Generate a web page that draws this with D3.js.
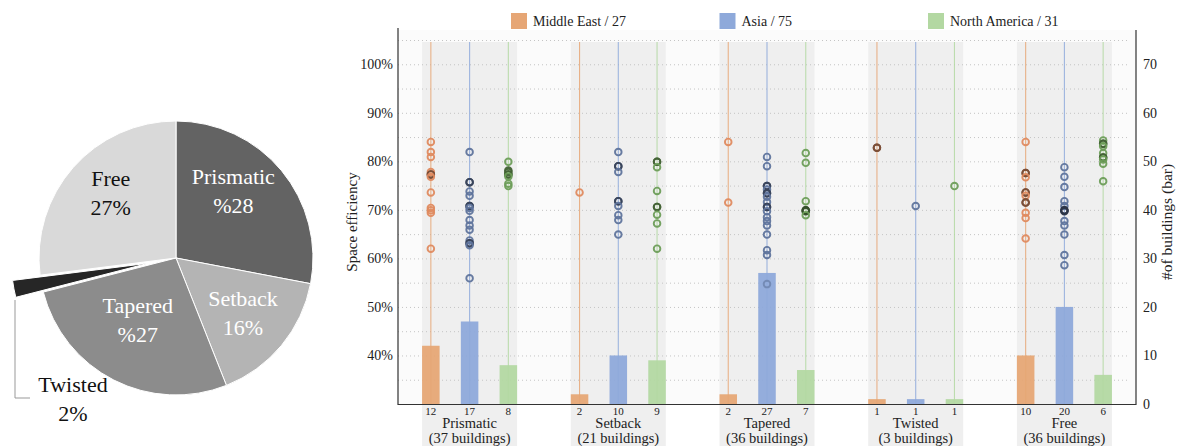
<!DOCTYPE html>
<html>
<head>
<meta charset="utf-8">
<script src="https://cdn.jsdelivr.net/npm/d3@7"></script>
<style>
  body { margin: 0; background: #fff; }
  svg { font-family: "Liberation Serif", "DejaVu Serif", serif; }
</style>
</head>
<body>
<svg id="chart" width="1185" height="446"></svg>
<script>
// ---- pie data ----
const pieNames = ["Prismatic", "Setback", "Tapered", "Twisted", "Free"];
const pieShares = [28, 16, 27, 2, 27];
const pieTexts = ["%28", "16%", "%27", "2%", "27%"];

// ---- grouped chart data ----
const categories = ["Prismatic", "Setback", "Tapered", "Twisted", "Free"];
const buildingTotals = [37, 21, 36, 3, 36];
const regions = ["Middle East", "Asia", "North America"];
const regionTotals = [27, 75, 31];

// number of buildings (bars, right axis)
const countsME = [12, 2, 2, 1, 10];
const countsAsia = [17, 10, 27, 1, 20];
const countsNA = [8, 9, 7, 1, 6];

// space efficiency per building (dots, left axis, %)
const effME = [
  [84.0, 81.9, 80.9, 77.8, 77.3, 77.3, 76.8, 73.6, 70.4, 69.9, 69.4, 62.0],
  [73.6],
  [84.0, 71.5],
  [82.8, 82.8],
  [84.0, 77.6, 77.6, 76.7, 73.6, 73.6, 72.9, 71.5, 71.5, 69.4, 68.3, 64.1]
];
const effAsia = [
  [81.9, 75.7, 75.7, 73.8, 72.9, 70.8, 70.8, 70.4, 69.8, 67.9, 66.8, 65.9, 63.7, 63.1, 63.1, 62.7, 55.9],
  [81.9, 79.0, 79.0, 77.8, 71.8, 71.8, 70.8, 68.9, 67.9, 64.9],
  [80.9, 79.0, 74.9, 74.9, 74.2, 73.4, 73.4, 72.7, 71.6, 70.6, 70.6, 69.7, 68.5, 67.7, 66.8, 64.9, 61.7, 60.7, 54.7],
  [70.8],
  [78.8, 76.8, 74.7, 71.8, 70.8, 69.9, 69.9, 69.7, 67.7, 66.8, 64.9, 60.7, 58.6]
];
const effNA = [
  [79.9, 78.1, 77.8, 77.3, 77.3, 76.9, 75.4, 74.9],
  [79.9, 79.9, 78.8, 73.9, 70.6, 70.6, 69.0, 67.2, 62.0],
  [81.7, 79.7, 71.8, 69.9, 69.9, 69.7, 68.9],
  [74.9],
  [84.3, 83.6, 83.6, 83.1, 81.7, 80.8, 80.8, 80.4, 79.5, 75.9]
];

const barColors = ["#e6a675", "#8ea9da", "#b3d8a2"];
const dotColors = ["#df8a5f", "#5f749c", "#6d9d58"];
const dotDark = ["#5a3a2a", "#2c3547", "#35502a"];

let svg = d3.select("#chart");

// ================= PIE =================
function drawPie() {
  let cx = 176, cy = 258, r = 137;
  let g = svg.append("g").attr("transform", "translate(" + cx + "," + cy + ")");

  let pie = d3.pie().sort(null).value(d => d);
  let arcs = pie(pieShares);
  let arc = d3.arc().innerRadius(0).outerRadius(r);
  let shades = ["#636363", "#b4b4b4", "#8c8c8c", "#262626", "#d9d9d9"];

  // twisted slice is pulled out a bit
  let explode = i => {
    if (pieNames[i] !== "Twisted") return [0, 0];
    let a = (arcs[i].startAngle + arcs[i].endAngle) / 2;
    return [Math.sin(a) * 28, -Math.cos(a) * 28];
  };

  g.selectAll("path")
    .data(arcs)
    .join("path")
    .attr("d", arc)
    .attr("fill", (d, i) => shades[i])
    .attr("stroke", "#fff")
    .attr("stroke-width", 1)
    .attr("transform", (d, i) => "translate(" + explode(i) + ")");

  // label spots (angle nudge in radians, radius)
  let labelSpot = [[-0.17, 88], [0, 87], [0.08, 73], null, [0.06, 92]];
  arcs.forEach((d, i) => {
    let lx, ly, fill;
    if (labelSpot[i]) {
      let a = (d.startAngle + d.endAngle) / 2 + labelSpot[i][0];
      lx = Math.sin(a) * labelSpot[i][1];
      ly = -Math.cos(a) * labelSpot[i][1];
      fill = pieNames[i] === "Free" ? "#111" : "#fff";
    } else {
      lx = -103; ly = 141; fill = "#111";
      // leader line for the small slice
      g.append("path")
        .attr("d", "M-161,42 V140 H-146")
        .attr("fill", "none")
        .attr("stroke", "#999")
        .attr("stroke-width", 1);
    }
    let t = g.append("text")
      .attr("text-anchor", "middle")
      .attr("font-size", 22)
      .attr("fill", fill);
    t.append("tspan").attr("x", lx).attr("y", ly - 7).text(pieNames[i]);
    t.append("tspan").attr("x", lx).attr("y", ly + 22).text(pieTexts[i]);
  });
}

// ================= GROUPED CHART =================
function drawChart() {
  let left = 398, right = 1136, bottom = 404, top = 40;

  let x0 = d3.scaleBand().domain(categories).range([left, right])
    .paddingInner(0.361).paddingOuter(0.162);
  let x1 = d3.scaleBand().domain(regions).range([0, x0.bandwidth()])
    .paddingInner(0.548);
  let yEff = d3.scaleLinear().domain([30, 105]).range([bottom, top]);
  let yCount = d3.scaleLinear().domain([0, 75]).range([bottom, top]);

  let counts = [countsME, countsAsia, countsNA];
  let effs = [effME, effAsia, effNA];

  // plot background
  svg.append("rect")
    .attr("x", left).attr("y", 30)
    .attr("width", right - left).attr("height", bottom - 30)
    .attr("fill", "#fbfbfb");

  // category bands (run down behind the labels)
  svg.append("g").selectAll("rect")
    .data(categories)
    .join("rect")
    .attr("x", d => x0(d))
    .attr("y", yEff(105) + 2)
    .attr("width", x0.bandwidth())
    .attr("height", 446 - yEff(105))
    .attr("fill", "#efefef");

  // dotted grid every 5%
  svg.append("g").selectAll("line")
    .data(d3.range(35, 106, 5))
    .join("line")
    .attr("x1", left).attr("x2", right - 6)
    .attr("y1", d => yEff(d) + 0.5).attr("y2", d => yEff(d) + 0.5)
    .attr("stroke", "#c4c4c4")
    .attr("stroke-width", 1)
    .attr("stroke-dasharray", "1,3");

  categories.forEach((cat, ci) => {
    let g = svg.append("g").attr("transform", "translate(" + x0(cat) + ",0)");

    regions.forEach((reg, ri) => {
      let cx = x1(reg) + x1.bandwidth() / 2;

      // thin stem line
      g.append("line")
        .attr("x1", cx).attr("x2", cx)
        .attr("y1", yEff(105) + 2).attr("y2", bottom)
        .attr("stroke", barColors[ri])
        .attr("stroke-opacity", 0.85)
        .attr("stroke-width", 1.1);

      // count bar
      let n = counts[ri][ci];
      g.append("rect")
        .attr("x", x1(reg))
        .attr("y", yCount(n))
        .attr("width", x1.bandwidth())
        .attr("height", bottom - yCount(n))
        .attr("fill", barColors[ri])
        .attr("opacity", 0.95);

      // count label under bar
      g.append("text")
        .attr("x", cx).attr("y", bottom + 11)
        .attr("text-anchor", "middle")
        .attr("font-size", 11)
        .attr("fill", "#222")
        .text(n);

      // efficiency rings, darker where buildings overlap
      let vals = effs[ri][ci];
      g.selectAll(null)
        .data(vals)
        .join("circle")
        .attr("cx", cx)
        .attr("cy", d => yEff(d))
        .attr("r", 3.3)
        .attr("fill", "none")
        .attr("stroke-width", 1.9)
        .attr("stroke", d => {
          let dup = vals.filter(v => Math.abs(v - d) < 0.35).length - 1;
          return d3.interpolateRgb(dotColors[ri], dotDark[ri])(Math.min(dup * 0.75, 1));
        })
        .attr("stroke-opacity", d => (yCount(counts[ri][ci]) < yEff(d) ? 0.6 : 0.95));
    });

    // category label
    let t = svg.append("text")
      .attr("text-anchor", "middle")
      .attr("font-size", 14.5)
      .attr("fill", "#222");
    t.append("tspan").attr("x", x0(cat) + x0.bandwidth() / 2).attr("y", bottom + 24).text(cat);
    t.append("tspan").attr("x", x0(cat) + x0.bandwidth() / 2).attr("y", bottom + 39)
      .text("(" + buildingTotals[ci] + " buildings)");
  });

  // axes
  let yAxisL = d3.axisLeft(yEff)
    .tickValues(d3.range(40, 101, 10))
    .tickFormat(d => d + "%")
    .tickSize(0).tickPadding(5);
  let gl = svg.append("g").attr("transform", "translate(" + left + ",0)").call(yAxisL);
  gl.select(".domain").remove();
  gl.selectAll("text").attr("font-size", 14).attr("font-family", "Liberation Serif").attr("fill", "#222");

  let yAxisR = d3.axisRight(yCount)
    .tickValues(d3.range(0, 71, 10))
    .tickSize(0).tickPadding(7);
  let gr = svg.append("g").attr("transform", "translate(" + right + ",0)").call(yAxisR);
  gr.select(".domain").remove();
  gr.selectAll("text").attr("font-size", 14).attr("font-family", "Liberation Serif").attr("fill", "#222");

  svg.append("path")
    .attr("d", "M" + left + ",28 V" + (bottom + 0.5) + " H" + right + " V30")
    .attr("fill", "none")
    .attr("stroke", "#333")
    .attr("stroke-width", 1.2);

  // axis titles
  svg.append("text")
    .attr("transform", "translate(357," + (bottom + top) / 2 + ") rotate(-90)")
    .attr("text-anchor", "middle")
    .attr("font-size", 15)
    .attr("fill", "#222")
    .text("Space efficiency");
  svg.append("text")
    .attr("transform", "translate(1172," + (bottom + top) / 2 + ") rotate(-90)")
    .attr("text-anchor", "middle")
    .attr("font-size", 15.5)
    .attr("fill", "#222")
    .text("#of buildings (bar)");

  // legend
  let lg = svg.append("g").selectAll("g")
    .data(regions)
    .join("g")
    .attr("transform", (d, i) => "translate(" + (511 + i * 208.5) + ",13)");
  lg.append("rect")
    .attr("width", 16).attr("height", 16)
    .attr("fill", (d, i) => barColors[i]);
  lg.append("text")
    .attr("x", 22).attr("y", 12.5)
    .attr("font-size", 14)
    .attr("fill", "#222")
    .text((d, i) => d + " / " + regionTotals[i]);
}

drawPie();
drawChart();
</script>
</body>
</html>
